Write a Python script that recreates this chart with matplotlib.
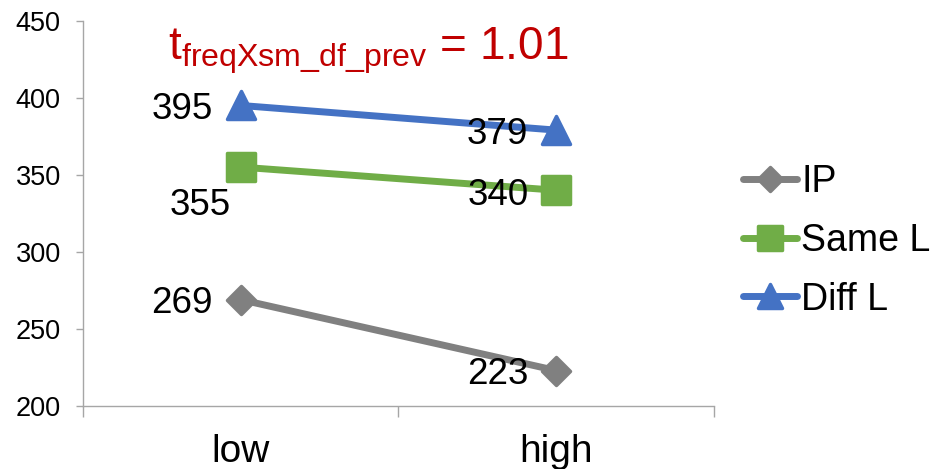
import matplotlib
matplotlib.use('Agg')
import matplotlib.pyplot as plt
from matplotlib.markers import MarkerStyle

plt.rcParams['font.family'] = ['Liberation Sans', 'DejaVu Sans']
plt.rcParams['mathtext.fontset'] = 'custom'
plt.rcParams['mathtext.rm'] = 'Liberation Sans'
plt.rcParams['mathtext.it'] = 'Liberation Sans'

categories = ['low', 'high']
series_names = ['IP', 'Same L', 'Diff L']
ip_vals = [269, 223]
same_vals = [355, 340]
diff_vals = [395, 379]
title_txt = r'$\mathregular{t_{freqXsm\_df\_prev}}$ = 1.01'

fig = plt.figure(figsize=(9.45, 4.69), dpi=100)
ax = fig.add_axes([0.0878, 0.1343, 0.6677, 0.8216])

x = list(range(len(categories)))
styles = [
    (ip_vals, '#808080', 'D', 14.5),
    (same_vals, '#70AD47', 's', 20),
    (diff_vals, '#4472C4', '^', 20),
]
for (vals, col, mk, ms), name in zip(styles, series_names):
    ax.plot(x, vals, color=col, lw=5, marker=MarkerStyle(mk, joinstyle='round'),
            markersize=ms, markeredgewidth=2.5, markeredgecolor=col,
            solid_capstyle='round', label=name, zorder=3)

# data labels (offsets in points)
lab_off = {
    'IP': [(-20, 0), (-20, 0)],
    'Same L': [(-7, -25), (-20, -1)],
    'Diff L': [(-20, 0), (-20, 0)],
}
for vals, name in zip([ip_vals, same_vals, diff_vals], series_names):
    for i, v in enumerate(vals):
        ax.annotate(str(v), (x[i], v), xytext=lab_off[name][i],
                    textcoords='offset points', ha='right',
                    va='center_baseline', fontsize=26.5, color='black', zorder=4)

ax.set_xlim(-0.5, 1.5)
ax.set_ylim(200, 450)
ax.set_yticks([200, 250, 300, 350, 400, 450])
ax.set_xticks([-0.5, 0.5, 1.5])
ax.set_xticklabels([])
ax.set_xticks(x, minor=True)
ax.set_xticklabels(categories, minor=True)
ax.tick_params(axis='x', which='major', direction='out', length=8, width=1, color='#A6A6A6')
ax.tick_params(axis='x', which='minor', length=0, pad=20, labelsize=28)
ax.tick_params(axis='y', direction='out', length=5, width=1, color='#A6A6A6',
               pad=11, labelsize=19.5)
for s in ['top', 'right']:
    ax.spines[s].set_visible(False)
for s in ['left', 'bottom']:
    ax.spines[s].set_color('#A6A6A6')
    ax.spines[s].set_linewidth(1)

fig.text(168 / 945, 1 - 60 / 469, title_txt, color='#C00000', fontsize=33,
         ha='left', va='baseline')

fig.legend(loc='center left', bbox_to_anchor=(743 / 945, 1 - 241 / 469),
           frameon=False, fontsize=27, handlelength=1.45, handletextpad=0.1,
           labelspacing=0.6, borderpad=0, borderaxespad=0, markerscale=0.85)

fig.savefig('out.png', dpi=100)
